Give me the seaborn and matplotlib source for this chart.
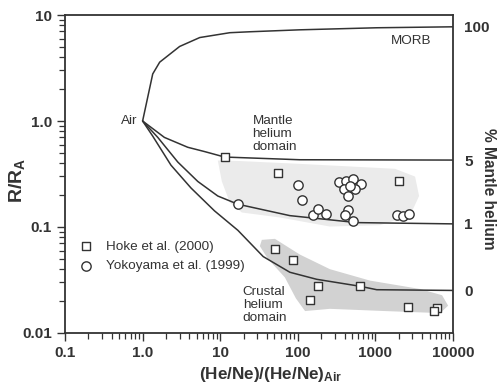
import matplotlib
matplotlib.use("Agg")
import matplotlib.pyplot as plt
import numpy as np
import pandas as pd
import seaborn as sns

# mixing curves: Air -> endmember
morb_x = [1.0, 1.35, 1.66, 3.0, 5.45, 13.3, 24.1, 106, 1040, 10000]
morb_r = [1.0, 2.78, 3.59, 5.05, 6.13, 6.81, 6.95, 7.25, 7.58, 7.74]

m5_x = [1.0, 1.91, 3.82, 6.27, 11.4, 106, 10000]
m5_r = [1.0, 0.70, 0.565, 0.515, 0.457, 0.431, 0.428]

m1_x = [1.0, 1.57, 2.84, 5.14, 9.31, 16.9, 79, 574, 10000]
m1_r = [1.0, 0.70, 0.41, 0.269, 0.196, 0.164, 0.128, 0.110, 0.107]

m0_x = [1.0, 1.35, 2.32, 4.21, 8.44, 16.9, 35.8, 79, 175, 632, 1040, 10000]
m0_r = [1.0, 0.72, 0.383, 0.233, 0.142, 0.093, 0.0526, 0.0374, 0.0321, 0.0276, 0.0256, 0.0252]

# shaded domains (outline)
mantle_dom_x = [9.31, 10.5, 13.3, 19.0, 58.7, 259, 1146, 2794, 3654, 3243, 1791, 106, 17.9]
mantle_dom_r = [0.424, 0.269, 0.170, 0.137, 0.123, 0.101, 0.104, 0.128, 0.196, 0.299, 0.354, 0.394, 0.419]

crust_dom_x = [34.4, 50.7, 106, 259, 851, 3760, 7230, 8650, 6820, 1330, 259, 124, 94.5, 68.2, 41.1, 32.4]
crust_dom_r = [0.0756, 0.0773, 0.055, 0.040, 0.0312, 0.026, 0.0227, 0.0181, 0.0154, 0.0161,
               0.0169, 0.0161, 0.0212, 0.0334, 0.0502, 0.066]

# samples
hoke_x = [11.4, 55.8, 2034, 50.7, 85.7, 183, 143, 632, 2660, 6180, 5750]
hoke_r = [0.457, 0.325, 0.273, 0.062, 0.0488, 0.0276, 0.0204, 0.0276, 0.01754, 0.01726, 0.0162]

yoko_x = [16.9, 101, 112, 155, 183, 229, 339, 418, 519, 646, 397, 546, 439, 470,
          447, 405, 509, 1884, 2291, 2737]
yoko_r = [0.164, 0.251, 0.180, 0.130, 0.148, 0.133, 0.263, 0.273, 0.282, 0.254, 0.230, 0.226,
          0.196, 0.242, 0.146, 0.131, 0.114, 0.130, 0.126, 0.133]

right_ticks = [0.0252, 0.107, 0.428, 7.74]
right_labels = ["0", "1", "5", "100"]

sns.set_style("ticks")
plt.rcParams["font.family"] = ["Liberation Sans", "DejaVu Sans"]
plt.rcParams["mathtext.fontset"] = "custom"
plt.rcParams["mathtext.rm"] = "Liberation Sans"
plt.rcParams["mathtext.bf"] = "Liberation Sans:bold"

ink = "#333333"
fig = plt.figure(figsize=(4.97, 3.88), dpi=100)
ax = fig.add_axes([0.1308, 0.1418, 0.7807, 0.8195])

ax.fill(mantle_dom_x, mantle_dom_r, color="#ebebeb", lw=0, zorder=1)
ax.fill(crust_dom_x, crust_dom_r, color="#d2d2d2", lw=0, zorder=1)

for xs, rs in [(morb_x, morb_r), (m5_x, m5_r), (m1_x, m1_r), (m0_x, m0_r)]:
    df = pd.DataFrame({"x": xs, "r": rs})
    sns.lineplot(data=df, x="x", y="r", sort=False, color=ink, lw=1.1, ax=ax, zorder=2)

hoke = pd.DataFrame({"x": hoke_x, "r": hoke_r})
yoko = pd.DataFrame({"x": yoko_x, "r": yoko_r})
sns.scatterplot(data=hoke, x="x", y="r", marker="s", s=30, facecolor="white",
                edgecolor=ink, linewidth=1.0, ax=ax, zorder=3, label="Hoke et al. (2000)")
sns.scatterplot(data=yoko, x="x", y="r", marker="o", s=45, facecolor="white",
                edgecolor=ink, linewidth=1.0, ax=ax, zorder=3, label="Yokoyama et al. (1999)")

ax.set_xscale("log")
ax.set_yscale("log")
ax.set_xlim(0.1, 10000)
ax.set_ylim(0.01, 10)
ax.set_xticks([0.1, 1, 10, 100, 1000, 10000])
ax.set_xticklabels(["0.1", "1.0", "10", "100", "1000", "10000"])
ax.set_yticks([0.01, 0.1, 1, 10])
ax.set_yticklabels(["0.01", "0.1", "1.0", "10"])
ax.tick_params(which="major", length=6, width=1.0, color=ink, labelsize=11, labelcolor=ink)
ax.tick_params(which="minor", length=4, width=0.9, color=ink)
for lab in ax.get_xticklabels() + ax.get_yticklabels():
    lab.set_fontweight("bold")
for sp in ax.spines.values():
    sp.set_linewidth(1.3)
    sp.set_color(ink)

ax.set_xlabel(r"$\mathbf{(He/Ne)/(He/Ne)_{Air}}$", fontsize=12.3, color=ink)
ax.xaxis.set_label_coords(0.53, -0.10)
ax.set_ylabel(r"$\mathbf{R/R_A}$", fontsize=14, color=ink)
ax.yaxis.set_label_coords(-0.097, 0.48)

ax2 = ax.twinx()
ax2.set_yscale("log")
ax2.set_ylim(0.01, 10)
ax2.set_yticks(right_ticks)
ax2.set_yticklabels(right_labels)
ax2.yaxis.set_minor_locator(matplotlib.ticker.NullLocator())
ax2.tick_params(length=0, pad=8, labelsize=11, labelcolor=ink)
for lab in ax2.get_yticklabels():
    lab.set_fontweight("bold")
for sp in ax2.spines.values():
    sp.set_visible(False)
fig.text(489 / 497, 1 - 189 / 388, "% Mantle helium", fontsize=11.2, fontweight="bold",
         color=ink, rotation=270, ha="center", va="center")

fs = 9.7
ax.text(0.86, 1.0, "Air", ha="right", va="center", fontsize=fs, color=ink)
ax.text(5300, 5.66, "MORB", ha="right", va="center", fontsize=fs, color=ink)
ax.text(26, 0.76, "Mantle\nhelium\ndomain", ha="left", va="center", fontsize=fs,
        color=ink, linespacing=1.1)
ax.text(19.5, 0.0185, "Crustal\nhelium\ndomain", ha="left", va="center", fontsize=fs,
        color=ink, linespacing=1.1)

ax.legend(loc="upper left", bbox_to_anchor=(-0.012, 0.33), frameon=False, fontsize=fs,
          handletextpad=0.5, labelspacing=0.55, labelcolor=ink)

fig.savefig("out.png", dpi=100)
